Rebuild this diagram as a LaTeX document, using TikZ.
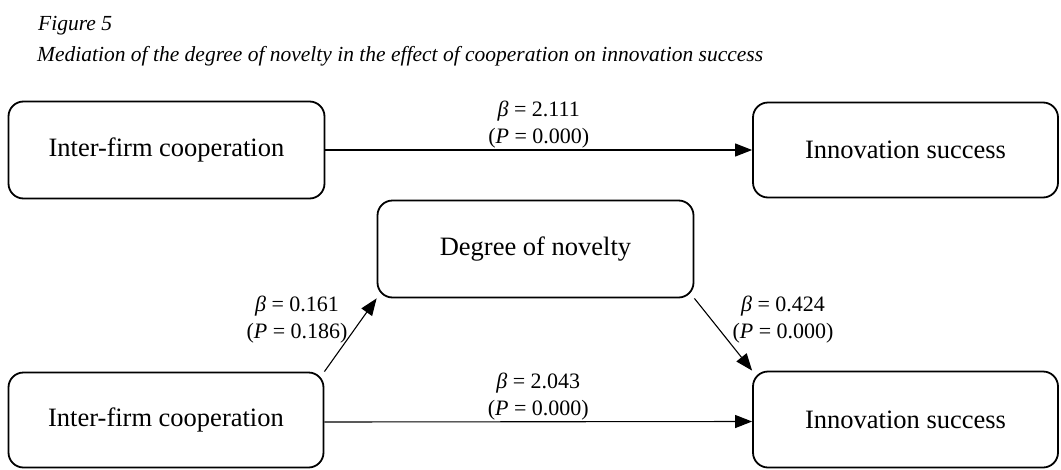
\documentclass[tikz,border=0pt]{standalone}
\usepackage{fontspec}
\setmainfont{Liberation Serif}
\usetikzlibrary{arrows.meta}
\begin{document}
\begin{tikzpicture}[x=1pt,y=-1pt,
  box/.style={draw, line width=1.8pt, rounded corners=15pt, inner sep=0pt,
    font=\fontsize{26.5}{32}\selectfont},
  link/.style={line width=1.1pt, -{Triangle[length=17pt,width=13pt]}},
  lbl/.style={font=\fontsize{22}{27}\selectfont, align=center, inner sep=1.5pt},
  ttl/.style={font=\fontsize{21.5}{26}\selectfont\itshape, anchor=base west, inner sep=0pt}]
\useasboundingbox (0,0) rectangle (1061,469);

\node[ttl] (t1) at (38,30) {Figure 5};
\node[ttl] (t2) at (37,61) {Mediation of the degree of novelty in the effect of cooperation on innovation success};

\node[box, minimum width=316pt, minimum height=97pt] (A) at (166.5,150) {Inter-firm cooperation};
\node[box, minimum width=305pt, minimum height=95pt] (B) at (905.5,150) {Innovation success};
\node[box, minimum width=316pt, minimum height=97pt] (M) at (535.5,249) {Degree of novelty};
\node[box, minimum width=315pt, minimum height=95pt] (C) at (166,420) {Inter-firm cooperation};
\node[box, minimum width=305pt, minimum height=96pt] (D) at (905.5,419.5) {Innovation success};

\draw[link] (A.east) -- node[lbl, above] (l1) {\textit{β} = 2.111\\(\textit{P} = 0.000)} (B.west);
\draw[link] ([yshift=-2pt]C.east) -- node[lbl, above] (l4) {\textit{β} = 2.043\\(\textit{P} = 0.000)} ([yshift=-2pt]D.west);
\draw[link] (C.north east) -- (M.south west);
\draw[link] (M.south east) -- (D.north west);

\node[lbl] (l2) at (297,320) {\textit{β} = 0.161\\(\textit{P} = 0.186)};
\node[lbl] (l3) at (783,320) {\textit{β} = 0.424\\(\textit{P} = 0.000)};
\end{tikzpicture}
\end{document}
